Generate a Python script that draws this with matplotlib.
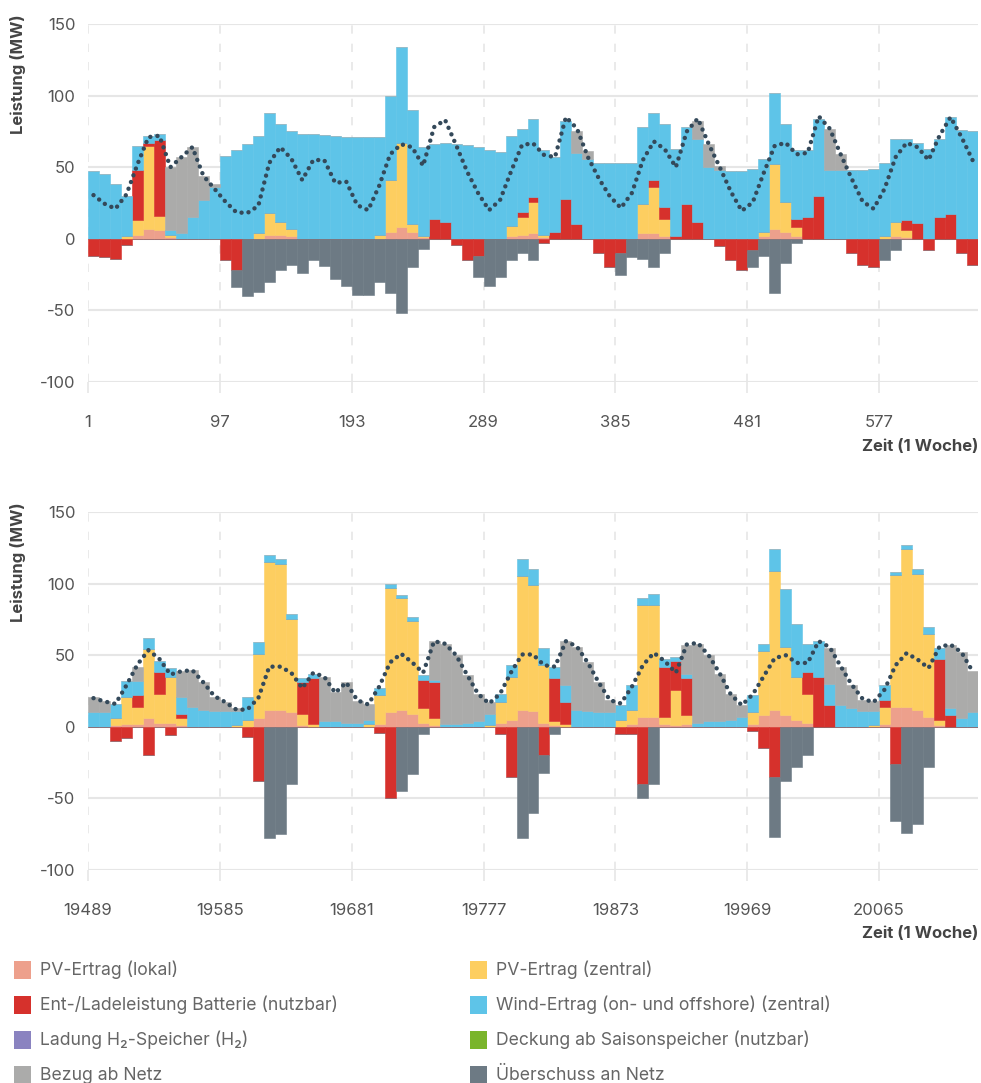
import numpy as np
import matplotlib.pyplot as plt
from matplotlib.patches import Rectangle

plt.rcParams['font.family'] = ['Inter', 'DejaVu Sans']
plt.rcParams['axes.unicode_minus'] = False

# Woche 1 (2-Stunden-Mittel, MW)
t_pv_lokal = [0,0,0,0,3,7,6,1,0,0,0,0,0,0,0,0,3,3,2,0,0,0,0,0,0,0,0,5,8,5,1,0,0,0,0,0,0,0,2,3,
              4,1,0,0,0,0,0,0,0,0,4,4,2,0,0,0,0,0,0,0,0,2,7,5,2,0,0,0,0,0,0,0,0,2,1,0,0,0,0,0,0]
t_pv_zentral = [0,0,0,2,10,58,10,2,0,0,0,0,0,0,0,4,15,9,5,0,0,0,0,0,0,0,3,36,59,5,1,0,0,0,0,0,0,0,7,12,
                22,2,0,0,0,0,0,0,0,0,20,32,12,0,0,0,0,0,0,0,0,3,45,21,6,0,0,0,0,0,0,0,2,10,5,0,0,0,0,0,0]
t_batterie = [-12,-13,-14,-4,35,2,53,0,0,0,0,0,-15,-22,0,0,0,0,0,0,0,0,0,0,0,0,0,0,0,0,0,14,12,-4,-15,-12,0,0,0,4,
              3,-3,5,28,10,0,-10,-20,-10,0,0,5,8,2,24,12,0,-5,-15,-22,-8,0,0,0,6,15,30,0,0,-10,-18,-20,0,0,7,11,-8,15,17,-10,-18]
t_wind = [47,45,38,28,17,5,4,3,4,15,27,36,58,62,66,68,70,68,68,73,73.5,72.5,72,71,71,71,68,59,67,80,62,52,55,66,65.5,64,62,60.5,63,58,
          55,59,52,54,50,56,53,53,53,53,54,47,58,61,54,58,50,48,47,47,49,51,50,54,48,47,54,48,48,48,48,49,51,58,57,56,63,55,68,76,75]
t_bezug = [0,0,0,0,0,0,0,44,53,49,17,2,0,0,0,0,0,0,0,0,0,0,0,0,0,0,0,0,0,0,0,0,0,0,0,0,0,0,0,0,
           0,0,0,0,15,5,0,0,0,0,0,0,0,0,0,12,16,3,0,0,0,0,0,0,0,0,0,29,11,0,0,0,0,0,0,0,0,0,0,0,0]
t_ueberschuss = [0,0,0,0,0,0,0,0,0,0,0,0,0,-12,-40,-37,-30,-22,-18,-24,-15,-19,-28,-33,-39,-39,-30,-38,-52,-20,-7,0,0,0,0,-15,-33,-27,-15,-10,
                 -15,0,0,0,0,0,0,0,-15,-13,-14,-20,-10,0,0,0,0,0,0,0,-12,-12,-38,-17,-3,0,0,0,0,0,0,0,-15,-8,0,0,0,0,0,0,0]
t_last = [30.5,24.5,21,31,52,71,72,50,57,64,44,35,26,18.5,18,23,53,64,56,41,55,55,39,40,23.5,20,37,59,66,64,51,78,83,65.5,47,32,20,27,47,65.5,
          66.7,58.6,57,85,77,57,42,29.6,21.5,32,55,68,62.5,50,75,84,66,50,33,19.5,25.5,46,65,67,59,60,85.6,77,59,42,26,21,35,57,67,64,55,72,85,71,55]

# Woche 2 (2-Stunden-Mittel, MW)
b_pv_lokal = [0,0,1,2,2,6,3,3,1,0,0,0,0,0,0,6,12,12,10,1,0,0,0,0,0,0,2,10,12,9,3,1,0,0,0,0,0,3,5,12,
              11,3,1,0,0,0,0,0,0,2,7,7,2,1,2,0,0,0,0,0,2,8,12,8,5,3,0,0,0,0,0,0,2,14,14,12,7,1,0,0,0]
b_pv_zentral = [0,0,5,19,12,48,20,32,5,0,0,0,0,1,5,45,103,102,65,8,2,0,0,0,0,2,20,87,78,65,10,5,0,0,0,0,1,14,30,93,
                88,40,3,2,0,0,0,0,5,10,78,78,5,25,6,0,0,0,0,0,8,45,97,48,30,20,0,0,0,0,0,1,12,92,110,95,58,4,0,0,0]
b_batterie = [0,0,-10,-8,8,-20,15,-6,3,0,0,0,0,0,-7,-38,0,0,0,22,32,0,0,0,0,0,-4,-50,0,0,20,25,0,0,0,0,0,-5,-35,0,
              0,-20,30,15,0,0,0,0,-5,-5,-40,0,35,20,26,0,0,0,0,0,-3,-15,-35,0,0,15,35,15,0,0,0,0,5,-26,0,0,0,42,8,0,0]
b_wind = [10,10,10,11,10,8,8,6,12,14,12,11,11,10,16,8,5,3,4,3,3,4,4,3,3,3,5,3,2,3,3,2,2,2,3,4,8,6,8,12,
          11,12,8,12,12,11,10,10,10,17,5,8,5,3,3,3,4,4,5,7,12,5,15,40,37,20,25,15,15,13,11,10,10,2,3,3,5,8,5,6,10]
b_bezug = [11,8,0,0,10,0,0,0,18,26,19,10,6,2,0,0,0,0,0,0,0,31,20,28,15,11,0,0,0,0,0,27,56,48,33,19,8,0,0,0,
           0,0,0,31,44,34,21,9,0,0,0,0,0,0,20,55,46,33,18,8,0,0,0,0,0,0,0,25,27,16,8,7,0,0,0,0,0,0,44,46,29]
b_ueberschuss = [0,0,0,0,0,0,0,0,0,0,0,0,0,0,0,0,-78,-75,-40,0,0,0,0,0,0,0,0,0,-45,-33,-5,0,0,0,0,0,0,0,0,-78,
                 -60,-12,-5,0,0,0,0,0,0,0,-10,-40,0,0,0,0,0,0,0,0,0,0,-42,-38,-28,-20,0,0,0,0,0,0,0,-40,-74,-68,-28,0,0,0,0]
b_last = [20,17.7,16,29,43.5,53.5,47.4,36.5,38.8,39.5,31,21.4,17.2,12,12,20,42,42,37.7,27,37.7,35,23.7,31,18.6,15.6,28,45,51,45,37.7,59.8,58,50,36.3,23,16.3,23,38,50.5,
          50.5,43,42,59.8,56,44.6,30.7,18.6,16.3,28,43,51.6,45.8,37.7,57.5,58.6,49.8,37.2,22.6,15.1,22.6,35.3,48,50,44.6,44.6,59.8,55.6,42.3,29.5,19.5,17.2,26,43,51.4,47,41,56,57.4,52,38.8]

c_pvl = '#eda08c'
c_pvz = '#fdce60'
c_bat = '#d6312c'
c_wind = '#5ec4e8'
c_h2 = '#8a83c0'
c_saison = '#7ab52b'
c_bezug = '#ababaa'
c_ueber = '#6d7a84'
c_last = '#34495a'
grid_c = '#e6e6e6'
text_c = '#555555'


def draw(ax, x0, pvl, pvz, bat, wind, bezug, ueber, last):
    pvl, pvz, bat, wind = map(np.array, (pvl, pvz, bat, wind))
    bezug, ueber, last = map(np.array, (bezug, ueber, last))
    x = x0 + 8 * np.arange(len(pvl))
    bat_pos = np.clip(bat, 0, None)
    bat_neg = np.clip(bat, None, 0)
    kw = dict(width=8, align='edge', linewidth=0.4)
    b = np.zeros(len(x))
    for h, c in [(pvl, c_pvl), (pvz, c_pvz), (bat_pos, c_bat), (wind, c_wind), (bezug, c_bezug)]:
        ax.bar(x, h, bottom=b, color=c, edgecolor=c, **kw)
        b = b + h
    ax.bar(x, bat_neg, color=c_bat, edgecolor=c_bat, **kw)
    ax.bar(x, ueber, bottom=bat_neg, color=c_ueber, edgecolor=c_ueber, **kw)
    ax.plot(x + 4, last, color=c_last, lw=3.2, linestyle=(0, (0.01, 1.6)),
            dash_capstyle='round', zorder=5)

    ticks = x0 + 96 * np.arange(7)
    ax.set_xlim(x0, x0 + 648)
    ax.set_ylim(-100, 150)
    ax.set_xticks(ticks)
    ax.set_xticklabels([str(t) for t in ticks])
    ax.set_yticks([-100, -50, 0, 50, 100, 150])
    ax.set_axisbelow(True)
    ax.yaxis.grid(True, color=grid_c, lw=1.5)
    ax.xaxis.grid(True, color=grid_c, lw=1.2, linestyle=(0, (5, 6)))
    for s in ax.spines.values():
        s.set_visible(False)
    ax.tick_params(axis='y', length=0, pad=9, labelsize=12, labelcolor=text_c)
    ax.tick_params(axis='x', length=8, color=grid_c, width=1.2, pad=16,
                   labelsize=12, labelcolor=text_c)


fig = plt.figure(figsize=(9.81, 10.83), dpi=100)
ax1 = fig.add_axes([88 / 981, 1 - 382 / 1083, 890 / 981, 358 / 1083])
ax2 = fig.add_axes([88 / 981, 1 - 870 / 1083, 890 / 981, 358 / 1083])
draw(ax1, 1, t_pv_lokal, t_pv_zentral, t_batterie, t_wind, t_bezug, t_ueberschuss, t_last)
draw(ax2, 19489, b_pv_lokal, b_pv_zentral, b_batterie, b_wind, b_bezug, b_ueberschuss, b_last)

for ytop, yx in [(14, 446), (502, 934)]:
    fig.text(18 / 981, 1 - ytop / 1083, 'Leistung (MW)', rotation=90, ha='center', va='top',
             fontsize=12, fontweight='bold', color='#444444')
    fig.text(978 / 981, 1 - yx / 1083, 'Zeit (1 Woche)', ha='right', va='center',
             fontsize=12, fontweight='bold', color='#444444')

legend = [('PV-Ertrag (lokal)', c_pvl), ('PV-Ertrag (zentral)', c_pvz),
          ('Ent-/Ladeleistung Batterie (nutzbar)', c_bat), ('Wind-Ertrag (on- und offshore) (zentral)', c_wind),
          ('Ladung H₂-Speicher (H₂)', c_h2), ('Deckung ab Saisonspeicher (nutzbar)', c_saison),
          ('Bezug ab Netz', c_bezug), ('Überschuss an Netz', c_ueber)]
for k, (lab, col) in enumerate(legend):
    row, colnum = divmod(k, 2)
    px = 14 if colnum == 0 else 470
    py = 970 + row * 35
    fig.add_artist(Rectangle((px / 981, 1 - (py + 9) / 1083), 17 / 981, 18 / 1083,
                             transform=fig.transFigure, color=col, lw=0))
    fig.text((px + 26) / 981, 1 - py / 1083, lab, ha='left', va='center',
             fontsize=12.7, color='#666666', family=['Inter', 'DejaVu Sans'])

fig.savefig('out.png', dpi=100)
